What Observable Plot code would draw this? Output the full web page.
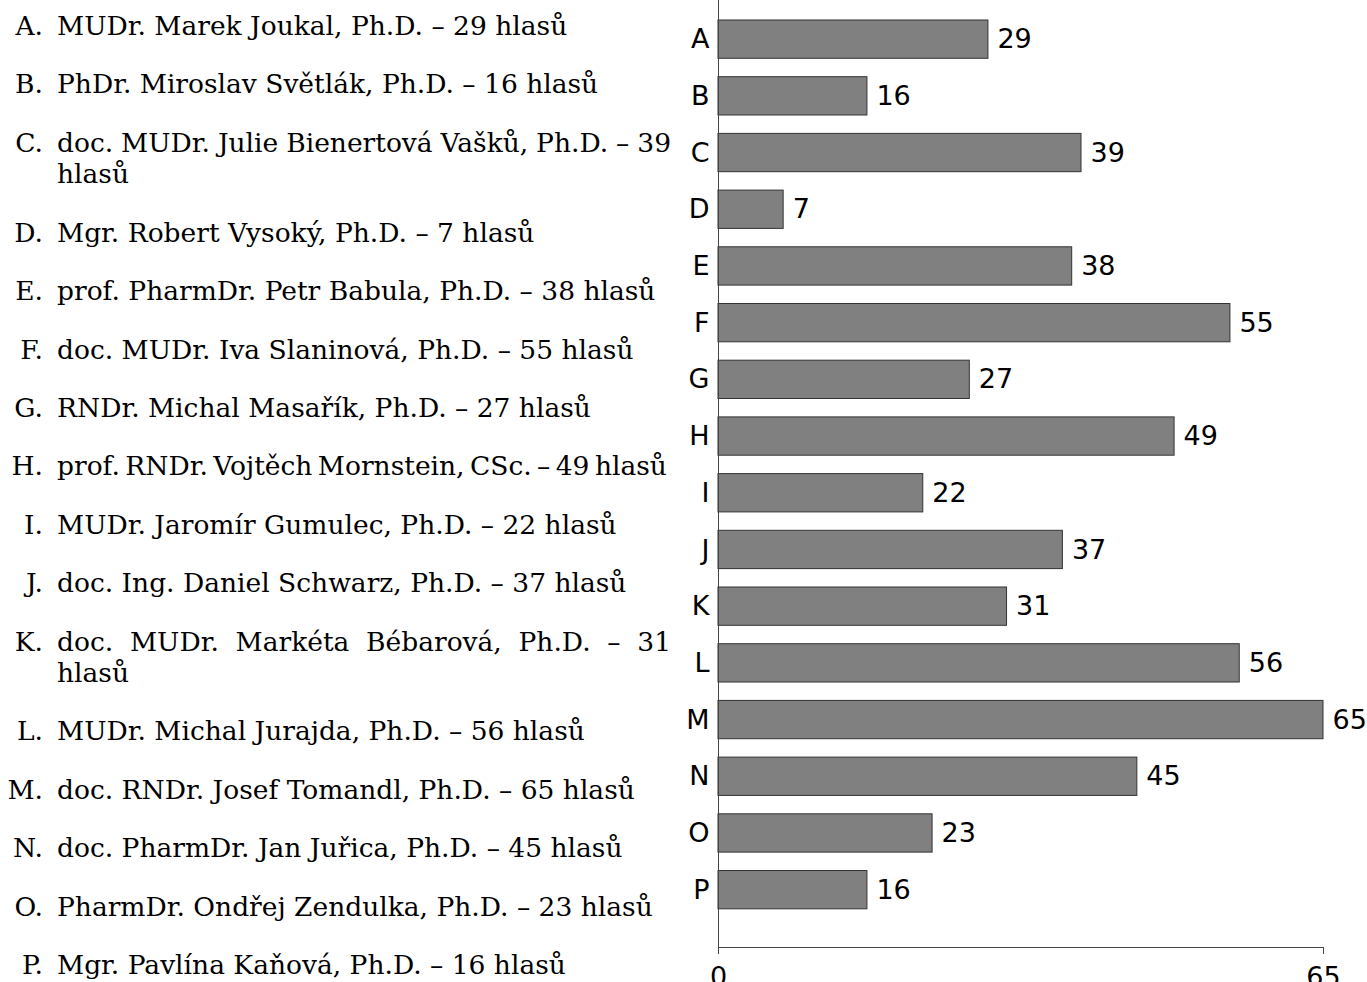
<!DOCTYPE html>
<html>
<head>
<meta charset="utf-8">
<script src="https://cdn.jsdelivr.net/npm/d3@7"></script>
<script src="https://cdn.jsdelivr.net/npm/@observablehq/plot@0.6"></script>
<style>
  html, body { margin: 0; padding: 0; background: #fff; }
  #wrap { position: relative; width: 1367px; height: 982px; overflow: hidden; }
  #list { position: absolute; left: 0; top: 10px; width: 671px;
          font-family: "DejaVu Serif", serif;
          font-size: 26.5px; line-height: 31.6px; color: #000; }
  .item { display: flex; margin-bottom: 26.8px; }
  .mk { width: 43px; text-align: right; flex: none; }
  .tx { flex: 1; margin-left: 14px; text-align: justify; }
  #chart { position: absolute; left: 0; top: 0; }
</style>
</head>
<body>
<div id="wrap">
  <div id="list"></div>
  <div id="chart"></div>
</div>
<script>
const letters = ["A","B","C","D","E","F","G","H","I","J","K","L","M","N","O","P"];
const names = [
  "MUDr. Marek Joukal, Ph.D.",
  "PhDr. Miroslav Světlák, Ph.D.",
  "doc. MUDr. Julie Bienertová Vašků, Ph.D.",
  "Mgr. Robert Vysoký, Ph.D.",
  "prof. PharmDr. Petr Babula, Ph.D.",
  "doc. MUDr. Iva Slaninová, Ph.D.",
  "RNDr. Michal Masařík, Ph.D.",
  "prof. RNDr. Vojtěch Mornstein, CSc.",
  "MUDr. Jaromír Gumulec, Ph.D.",
  "doc. Ing. Daniel Schwarz, Ph.D.",
  "doc. MUDr. Markéta Bébarová, Ph.D.",
  "MUDr. Michal Jurajda, Ph.D.",
  "doc. RNDr. Josef Tomandl, Ph.D.",
  "doc. PharmDr. Jan Juřica, Ph.D.",
  "PharmDr. Ondřej Zendulka, Ph.D.",
  "Mgr. Pavlína Kaňová, Ph.D."
];
const votes = [29, 16, 39, 7, 38, 55, 27, 49, 22, 37, 31, 56, 65, 45, 23, 16];
const xTicks = [0, 65];

const data = letters.map((l, i) => ({letter: l, name: names[i], votes: votes[i]}));

// Left list
const list = document.getElementById("list");
data.forEach(d => {
  const item = document.createElement("div");
  item.className = "item";
  const mk = document.createElement("span");
  mk.className = "mk";
  mk.textContent = d.letter + ".";
  const tx = document.createElement("span");
  tx.className = "tx";
  tx.textContent = `${d.name} – ${d.votes} hlasů`;
  item.appendChild(mk);
  item.appendChild(tx);
  list.appendChild(item);
  // emulate a justifier that may shrink inter-word spaces a little
  if (tx.getBoundingClientRect().height > 40) tx.style.wordSpacing = "-3px";
});

const axisColor = "#444";
const chart = Plot.plot({
  width: 1367,
  height: 982,
  marginLeft: 718,
  marginRight: 44,
  marginTop: 0,
  marginBottom: 35,
  style: {fontFamily: "DejaVu Sans", fontSize: "27px", color: "#000", background: "transparent"},
  x: {domain: [0, 65]},
  y: {domain: letters, range: [10.8, 918], paddingInner: 0.3245, paddingOuter: 0.162, round: false},
  marks: [
    Plot.barX(data, {x: "votes", y: "letter", fill: "#808080", stroke: "#333", strokeWidth: 1}),
    Plot.text(data, {x: "votes", y: "letter", text: d => String(d.votes), dx: 9, textAnchor: "start", fontSize: 27, fill: "#000"}),
    Plot.axisY({tickSize: 0, tickPadding: 9, fontSize: 27, label: null}),
    Plot.axisX({ticks: xTicks, tickSize: 7, tickPadding: 12, fontSize: 27, label: null, stroke: axisColor}),
    Plot.ruleX([0], {stroke: axisColor}),
    Plot.frame({anchor: "bottom", stroke: axisColor})
  ]
});
document.getElementById("chart").appendChild(chart);
</script>
</body>
</html>
